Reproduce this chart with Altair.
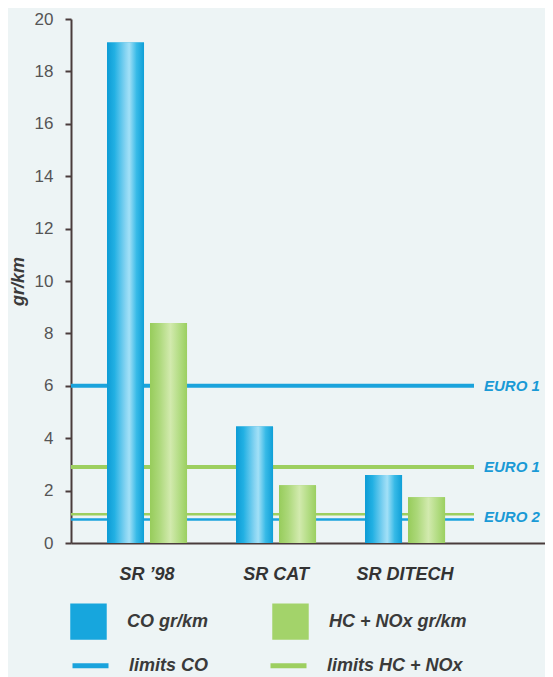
import altair as alt
import pandas as pd

# ---- data ----
models = ["SR \u201998", "SR CAT", "SR DITECH"]
series_names = ["CO gr/km", "HC + NOx gr/km"]
co_values = [19.1, 4.45, 2.6]
hc_values = [8.4, 2.2, 1.75]

limit_names = ["limits CO", "limits HC + NOx", "limits HC + NOx", "limits CO"]
limit_levels = ["EURO 1", "EURO 1", "EURO 2", "EURO 2"]
limit_values = [6.0, 2.9, 1.1, 0.9]

label_texts = ["EURO 1", "EURO 1", "EURO 2"]
label_values = [6.0, 2.9, 1.0]

bars_df = pd.DataFrame({
    "model": models * 2,
    "series": [series_names[0]] * 3 + [series_names[1]] * 3,
    "value": co_values + hc_values,
})
limits_df = pd.DataFrame({"limit": limit_names, "level": limit_levels, "value": limit_values})
labels_df = pd.DataFrame({"text": label_texts, "value": label_values})

FONT = "Liberation Sans"
BLUE = "#17a6dd"
GREEN = "#a3d36a"
LINE_BLUE = "#1aa3dc"
LINE_GREEN = "#9dcf5f"
AXIS_COL = "#4a3c3c"

grad_blue = {
    "gradient": "linear", "x1": 0, "x2": 1, "y1": 0, "y2": 0,
    "stops": [
        {"offset": 0.0, "color": "#0c9bd5"},
        {"offset": 0.2, "color": "#22b0e3"},
        {"offset": 0.5, "color": "#86d4f2"},
        {"offset": 0.6, "color": "#a2e0f7"},
        {"offset": 0.8, "color": "#37bae7"},
        {"offset": 1.0, "color": "#0f9fd7"},
    ],
}
grad_green = {
    "gradient": "linear", "x1": 0, "x2": 1, "y1": 0, "y2": 0,
    "stops": [
        {"offset": 0.0, "color": "#97cc5b"},
        {"offset": 0.25, "color": "#acd87a"},
        {"offset": 0.55, "color": "#d2eaae"},
        {"offset": 0.8, "color": "#b2dc82"},
        {"offset": 1.0, "color": "#9bcf60"},
    ],
}

y_scale = alt.Scale(domain=[0, 20], nice=False)
y_axis = alt.Axis(
    values=list(range(0, 21, 2)), title="gr/km", grid=False,
    domainColor=AXIS_COL, domainWidth=2, tickColor=AXIS_COL, tickWidth=2, tickSize=6,
    labelFont=FONT, labelFontSize=17, labelColor="#555555", labelPadding=12,
    titleFont=FONT, titleFontSize=18, titleFontStyle="italic", titleFontWeight="bold",
    titleColor="#3a3a3a", titlePadding=7,
)

x_enc = alt.X(
    "model:N", sort=models,
    scale=alt.Scale(domain=models, paddingInner=0.38, paddingOuter=0.527, align=0.265),
    axis=alt.Axis(title=None, ticks=False, labelAngle=0, domainColor=AXIS_COL, domainWidth=2,
                  labelFont=FONT, labelFontSize=18, labelFontStyle="italic", labelFontWeight="bold",
                  labelColor="#333333", labelPadding=22),
)
xoff_enc = alt.XOffset("series:N", sort=series_names,
                       scale=alt.Scale(domain=series_names, paddingInner=0.14, paddingOuter=0))

rules = alt.Chart(limits_df).mark_rule().encode(
    y=alt.Y("value:Q", scale=y_scale, axis=y_axis),
    x=alt.value(0), x2=alt.value(403),
    stroke=alt.Stroke("limit:N", scale=alt.Scale(domain=["limits CO", "limits HC + NOx"],
                                                  range=[LINE_BLUE, LINE_GREEN]),
                      legend=alt.Legend(title=None, orient="none", legendX=-1, legendY=626,
                                        direction="horizontal", padding=0,
                                        symbolType="stroke", symbolSize=1296, symbolStrokeWidth=5,
                                        labelFont=FONT, labelFontSize=18, labelFontStyle="italic",
                                        labelFontWeight="bold", labelColor="#3a3a3a",
                                        labelOffset=18, columnPadding=51)),
    strokeWidth=alt.condition(alt.datum.level == "EURO 1", alt.value(4), alt.value(2.5)),
)

bars_flat = alt.Chart(bars_df).mark_bar().encode(
    x=x_enc, xOffset=xoff_enc,
    y=alt.Y("value:Q", scale=y_scale),
    fill=alt.Fill("series:N", scale=alt.Scale(domain=series_names, range=[BLUE, GREEN]),
                  legend=alt.Legend(title=None, orient="none", legendX=-1, legendY=584,
                                    direction="horizontal", padding=0,
                                    symbolType="square", symbolSize=1330, symbolStrokeWidth=0,
                                    symbolOpacity=1,
                                    labelFont=FONT, labelFontSize=18, labelFontStyle="italic",
                                    labelFontWeight="bold", labelColor="#3a3a3a",
                                    labelOffset=20, columnPadding=63)),
)

bars_grad = alt.Chart(bars_df).mark_bar().encode(
    x=x_enc, xOffset=xoff_enc,
    y=alt.Y("value:Q", scale=y_scale),
    fill=alt.condition(alt.datum.series == "CO gr/km", alt.value(grad_blue), alt.value(grad_green)),
)

labels = alt.Chart(labels_df).mark_text(
    align="left", baseline="middle", font=FONT, fontSize=15, fontStyle="italic",
    fontWeight="bold", color="#1a9ad6",
).encode(
    x=alt.value(413),
    y=alt.Y("value:Q", scale=y_scale),
    text="text:N",
)

chart = alt.layer(rules, bars_flat, bars_grad, labels).properties(
    width=474, height=524,
    autosize=alt.AutoSizeParams(type="none"),
    padding={"left": 63, "top": 11, "right": 0, "bottom": 134},
    background="#edf4f5",
).configure_view(stroke=None)

chart.save("out.html", embed_options={"renderer": "svg", "actions": False})
